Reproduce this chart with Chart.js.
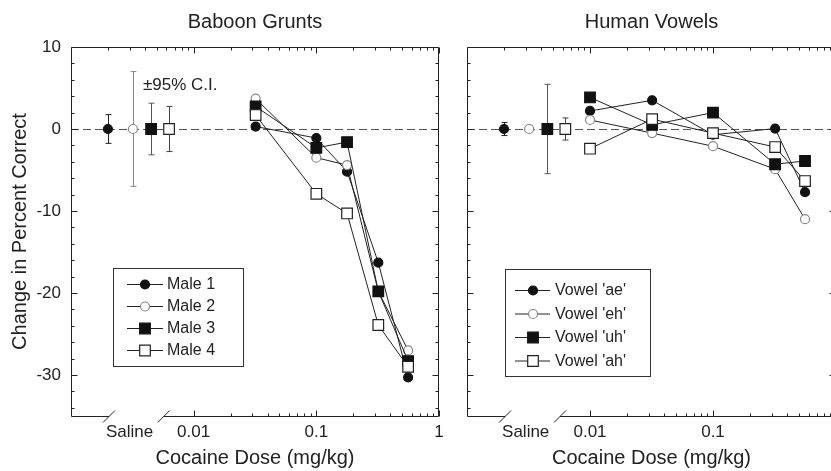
<!DOCTYPE html>
<html>
<head>
<meta charset="utf-8">
<script src="https://cdn.jsdelivr.net/npm/chart.js@4.4.0/dist/chart.umd.min.js"></script>
<style>
  html, body { margin: 0; padding: 0; background: #fff; overflow: hidden; }
  #wrap { position: relative; width: 831px; height: 471px; overflow: hidden; }
  #leftChart { position: absolute; left: 0; top: 0; }
  #rightChart { position: absolute; left: 450px; top: 0; }
</style>
</head>
<body>
<div id="wrap">
  <canvas id="leftChart" width="450" height="471"></canvas>
  <canvas id="rightChart" width="400" height="471"></canvas>
</div>
<script>
// x positions used for the four saline points (spread out, no real dose)
const salineX = [0.002, 0.0032, 0.0045, 0.0063];
const xTickValues = [0.003, 0.01, 0.1, 1];
const xTickLabels = ['Saline', '0.01', '0.1', '1'];
const yTickValues = [-30, -20, -10, 0, 10];

// Baboon grunts
const baboonDoses = [0.032, 0.1, 0.178, 0.32, 0.56];
const baboonNames = ['Male 1', 'Male 2', 'Male 3', 'Male 4'];
const male1 = [0.3, -1.1, -5.2, -16.3, -30.3];
const male2 = [3.7, -3.5, -4.4, -19.8, -27.0];
const male3 = [2.75, -2.3, -1.6, -19.8, -28.3];
const male4 = [1.7, -7.9, -10.3, -23.9, -29.0];
const baboonSaline = [0, 0, 0, 0];
const baboonSalineCI = [1.75, 7.0, 3.15, 2.75];

// Human vowels
const humanDoses = [0.01, 0.032, 0.1, 0.32, 0.56];
const humanNames = ["Vowel 'ae'", "Vowel 'eh'", "Vowel 'uh'", "Vowel 'ah'"];
const vowelAe = [2.2, 3.5, -0.7, 0.05, -7.7];
const vowelEh = [1.1, -0.5, -2.1, -4.9, -11.0];
const vowelUh = [3.85, 0.5, 2.0, -4.3, -3.9];
const vowelAh = [-2.4, 1.2, -0.5, -2.2, -6.35];
const humanSaline = [0, 0, 0, 0];
const humanSalineCI = [0.8, 0, 5.45, 1.35];

const FONT = "'Liberation Sans', Arial, Helvetica, sans-serif";

const markerStyles = [
  { pointStyle: 'circle', radius: 4.5, fill: '#111', stroke: '#111' },
  { pointStyle: 'circle', radius: 4.5, fill: '#fff', stroke: '#888' },
  { pointStyle: 'rect', radius: 7.5, fill: '#111', stroke: '#111' },
  { pointStyle: 'rect', radius: 7.5, fill: '#fff', stroke: '#222' }
];
const ciColors = ['#222', '#888', '#555', '#444'];

function drawMarker(ctx, m, x, y) {
  ctx.beginPath();
  if (m.pointStyle === 'circle') {
    ctx.arc(x, y, m.radius, 0, Math.PI * 2);
  } else {
    const s = m.radius * Math.SQRT1_2;
    ctx.rect(x - s, y - s, 2 * s, 2 * s);
  }
  ctx.fillStyle = m.fill;
  ctx.fill();
  ctx.strokeStyle = m.stroke;
  ctx.lineWidth = 1.2;
  ctx.stroke();
}

function seg(ctx, x1, y1, x2, y2) {
  ctx.beginPath();
  ctx.moveTo(x1, y1);
  ctx.lineTo(x2, y2);
  ctx.stroke();
}

// zero line, error bars, frame, ticks, broken axis, legend
const panelPlugin = {
  id: 'panel',
  beforeDatasetsDraw(chart, args, opts) {
    const { ctx, chartArea: a, scales: { x, y } } = chart;
    ctx.save();
    ctx.strokeStyle = '#555';
    ctx.lineWidth = 1;
    ctx.setLineDash([8, 4]);
    const y0 = Math.round(y.getPixelForValue(0)) + 0.5;
    seg(ctx, a.left, y0, a.right, y0);
    ctx.setLineDash([]);

    opts.ci.forEach((c, i) => {
      if (!c) return;
      const px = Math.round(x.getPixelForValue(salineX[i])) + 0.5;
      const top = y.getPixelForValue(opts.means[i] + c);
      const bot = y.getPixelForValue(opts.means[i] - c);
      ctx.strokeStyle = ciColors[i];
      ctx.lineWidth = 1;
      seg(ctx, px, top, px, bot);
      seg(ctx, px - 3, top, px + 3, top);
      seg(ctx, px - 3, bot, px + 3, bot);
    });
    ctx.restore();
  },
  afterDraw(chart, args, opts) {
    const { ctx, chartArea: a, scales: { x, y } } = chart;
    ctx.save();
    ctx.strokeStyle = '#222';
    ctx.lineWidth = 1;
    const L = Math.round(a.left) + 0.5, R = Math.round(a.right) - 0.5;
    const T = Math.round(a.top) + 0.5, B = Math.round(a.bottom) + 0.5;

    // frame (left, top, right)
    seg(ctx, L, T, L, B);
    seg(ctx, L, T, R, T);
    seg(ctx, R, T, R, B);

    // broken bottom axis
    const b1 = x.getPixelForValue(opts.breaks[0]);
    const b2 = x.getPixelForValue(opts.breaks[1]);
    seg(ctx, L, B, b1, B);
    seg(ctx, b2, B, R, B);
    seg(ctx, b1 - 6, B + 6, b1 + 6, B - 6);
    seg(ctx, b2 - 6, B + 6, b2 + 6, B - 6);

    // y ticks, both sides, pointing in
    for (let v = -34; v <= 10; v += 2) {
      const py = Math.round(y.getPixelForValue(v)) + 0.5;
      const len = v % 10 === 0 ? 6 : 3;
      seg(ctx, L, py, L + len, py);
      seg(ctx, R, py, R - len, py);
    }

    // x ticks, log minor
    [0.001, 0.01, 0.1, 1].forEach(dec => {
      for (let k = 1; k <= 9; k++) {
        const v = dec * k;
        if (v > 1.0001) break;
        const px = Math.round(x.getPixelForValue(v)) + 0.5;
        if (px <= L + 1 || px > R + 1) continue;
        const len = k === 1 ? 6 : 3;
        seg(ctx, px, T, px, T + len);
        if (v >= 0.0099) seg(ctx, px, B, px, B - len);
      }
    });

    // legend
    const lg = opts.legend;
    ctx.strokeStyle = '#333';
    ctx.strokeRect(Math.round(a.left + lg.box[0]) + 0.5, lg.box[1] + 0.5, lg.box[2] - lg.box[0], lg.box[3] - lg.box[1]);
    ctx.font = '16px ' + FONT;
    ctx.textBaseline = 'middle';
    ctx.textAlign = 'left';
    opts.names.forEach((name, i) => {
      const ry = lg.rows[i];
      ctx.strokeStyle = '#222';
      ctx.lineWidth = 1;
      seg(ctx, a.left + lg.line[0], ry + 0.5, a.left + lg.line[1], ry + 0.5);
      drawMarker(ctx, markerStyles[i], a.left + lg.marker, ry + 0.5);
      ctx.fillStyle = '#222';
      ctx.fillText(name, a.left + lg.text, ry + 1);
    });

    if (opts.note) {
      ctx.font = '17px ' + FONT;
      ctx.fillStyle = '#222';
      ctx.fillText(opts.note, a.left + 72, 85);
    }
    ctx.restore();
  }
};

function buildDatasets(doses, series, names, means) {
  const sets = [];
  series.forEach((vals, i) => {
    const m = markerStyles[i];
    const common = {
      label: names[i],
      order: -i, // later series sit on top
      borderColor: '#222',
      borderWidth: 1,
      pointStyle: m.pointStyle,
      pointRadius: m.radius,
      pointBackgroundColor: m.fill,
      pointBorderColor: m.stroke,
      pointBorderWidth: 1.2,
      tension: 0,
      clip: false
    };
    sets.push(Object.assign({}, common, {
      data: doses.map((d, j) => ({ x: d, y: vals[j] }))
    }));
    sets.push(Object.assign({}, common, {
      data: [{ x: salineX[i], y: means[i] }],
      showLine: false
    }));
  });
  return sets;
}

function makePanel(canvasId, cfg) {
  return new Chart(document.getElementById(canvasId), {
    type: 'line',
    data: { datasets: buildDatasets(cfg.doses, cfg.series, cfg.names, cfg.means) },
    plugins: [panelPlugin],
    options: {
      responsive: false,
      animation: false,
      events: [],
      layout: { padding: { left: 0, right: cfg.padRight, top: 0, bottom: 0 } },
      plugins: {
        legend: { display: false },
        tooltip: { enabled: false },
        title: {
          display: true,
          text: cfg.title,
          fullSize: false,
          color: '#222',
          font: { family: FONT, size: 20, weight: 'normal' },
          padding: { top: 10, bottom: 13 }
        },
        panel: {
          ci: cfg.ci,
          means: cfg.means,
          names: cfg.names,
          breaks: [0.00204, 0.0057],
          legend: cfg.legend,
          note: cfg.note
        }
      },
      scales: {
        x: {
          type: 'logarithmic',
          min: 0.001,
          max: 1,
          grid: { display: false, drawTicks: false },
          border: { display: false },
          afterBuildTicks: s => { s.ticks = xTickValues.map(v => ({ value: v })); },
          afterFit: s => { s.height = 55; },
          ticks: {
            autoSkip: false,
            maxRotation: 0,
            minRotation: 0,
            padding: 6,
            color: '#222',
            font: { family: FONT, size: 17 },
            callback: (v, i) => xTickLabels[i]
          },
          title: {
            display: true,
            text: 'Cocaine Dose (mg/kg)',
            color: '#222',
            font: { family: FONT, size: 20 },
            padding: { top: 0, bottom: 1 }
          }
        },
        y: {
          min: -35,
          max: 10,
          grid: { display: false, drawTicks: false },
          border: { display: false },
          afterBuildTicks: s => { s.ticks = yTickValues.map(v => ({ value: v })); },
          afterFit: s => { s.width = cfg.yWidth; },
          ticks: {
            display: cfg.showY,
            padding: 10,
            color: '#222',
            font: { family: FONT, size: 17 }
          },
          title: {
            display: cfg.showY,
            text: 'Change in Percent Correct',
            color: '#222',
            font: { family: FONT, size: 20 },
            padding: { top: 8, bottom: 0 }
          }
        }
      }
    }
  });
}

makePanel('leftChart', {
  title: 'Baboon Grunts',
  doses: baboonDoses,
  series: [male1, male2, male3, male4],
  names: baboonNames,
  means: baboonSaline,
  ci: baboonSalineCI,
  showY: true,
  yWidth: 71,
  padRight: 11,
  note: '\u00b195% C.I.',
  legend: { box: [42, 268, 172, 366], rows: [284, 306, 328, 350], line: [56, 92], marker: 74, text: 96 }
});

makePanel('rightChart', {
  title: 'Human Vowels',
  doses: humanDoses,
  series: [vowelAe, vowelEh, vowelUh, vowelAh],
  names: humanNames,
  means: humanSaline,
  ci: humanSalineCI,
  showY: false,
  yWidth: 17,
  padRight: 14,
  note: null,
  legend: { box: [38, 269, 183, 376], rows: [290, 313.5, 337, 360.5], line: [48, 83], marker: 66, text: 88 }
});
</script>
</body>
</html>
